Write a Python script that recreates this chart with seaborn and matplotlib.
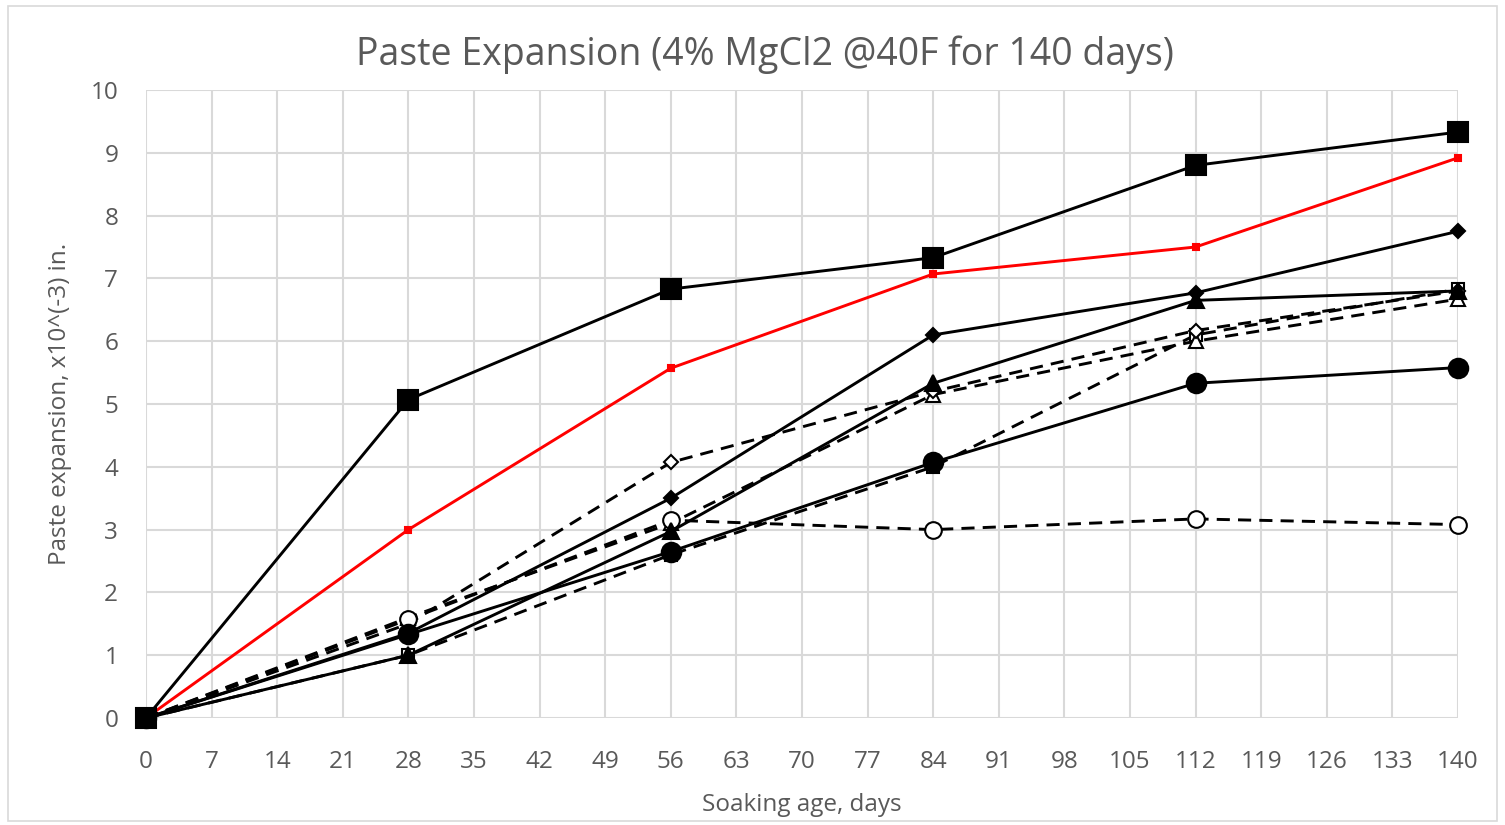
import matplotlib
matplotlib.use("Agg")
import matplotlib.pyplot as plt
import seaborn as sns
import pandas as pd

days = [0, 28, 56, 84, 112, 140]
s_square = [0, 5.07, 6.83, 7.33, 8.80, 9.33]
s_red = [0, 3.00, 5.57, 7.07, 7.50, 8.92]
s_diamond = [0, 1.35, 3.50, 6.10, 6.77, 7.75]
s_triangle = [0, 1.00, 2.97, 5.33, 6.65, 6.80]
s_circle = [0, 1.33, 2.65, 4.07, 5.33, 5.58]
s_ocircle = [0, 1.57, 3.15, 3.00, 3.17, 3.08]
s_odiamond = [0, 1.50, 4.07, 5.20, 6.17, 6.80]
s_otriangle = [0, 1.60, 3.10, 5.15, 6.00, 6.67]
s_osquare = [0, 1.00, 2.60, 4.00, 6.10, 6.83]

x_ticks = list(range(0, 141, 7))
y_ticks = list(range(0, 11))

title = "Paste Expansion (4% MgCl2 @40F for 140 days)"
xlabel = "Soaking age, days"
ylabel = "Paste expansion, x10^(-3) in."

sns.set_theme(style="whitegrid")
plt.rcParams['font.family'] = ['Open Sans', 'DejaVu Sans']

fig = plt.figure(figsize=(15.05, 8.25), dpi=100)
ax = fig.add_axes([146/1505, 1-718/825, (1458-146)/1505, (718-90)/825])

grey = "#595959"
series = [
    (s_osquare, 's', 8, 'white', 'black', '--'),
    (s_otriangle, '^', 10, 'white', 'black', '--'),
    (s_odiamond, 'D', 7, 'white', 'black', '--'),
    (s_ocircle, 'o', 12, 'white', 'black', '--'),
    (s_circle, 'o', 14, 'black', 'black', '-'),
    (s_triangle, '^', 12, 'black', 'black', '-'),
    (s_diamond, 'D', 7, 'black', 'black', '-'),
    (s_red, 's', 4, 'red', 'red', '-'),
    (s_square, 's', 14, 'black', 'black', '-'),
]
for vals, mk, ms, mfc, col, ls in series:
    df = pd.DataFrame({"day": days, "val": vals})
    sns.lineplot(data=df, x="day", y="val", ax=ax, color=col, linewidth=2.1,
                 marker=mk, markersize=ms, markerfacecolor=mfc,
                 markeredgecolor=col, markeredgewidth=1.5)
    l = ax.lines[-1]
    if ls == '--':
        l.set_dashes([4.5, 2.8])

ax.set_xlim(0, 140)
ax.set_ylim(0, 10)
ax.set_xticks(x_ticks)
ax.set_yticks(y_ticks)
ax.grid(True, color="#d9d9d9", linewidth=1.5)
for sp in ax.spines.values():
    sp.set_visible(False)
ax.tick_params(axis='both', length=0, labelsize=17.5, labelcolor=grey)
ax.tick_params(axis='x', pad=23)
ax.tick_params(axis='y', pad=20)
ax.set_xlabel(xlabel, fontsize=17.5, color=grey, labelpad=14)
ax.set_ylabel(ylabel, fontsize=17.5, color=grey, labelpad=13)
for l in ax.lines:
    l.set_clip_on(False)
fig.text(0.508, 1-55/825, title, ha='center', va='center', fontsize=27, color=grey)
fig.patches.append(plt.Rectangle((0.005, 0.005), 0.99, 0.988, transform=fig.transFigure,
                                 fill=False, edgecolor="#d9d9d9", linewidth=1.2))
fig.savefig("out.png", dpi=100)
